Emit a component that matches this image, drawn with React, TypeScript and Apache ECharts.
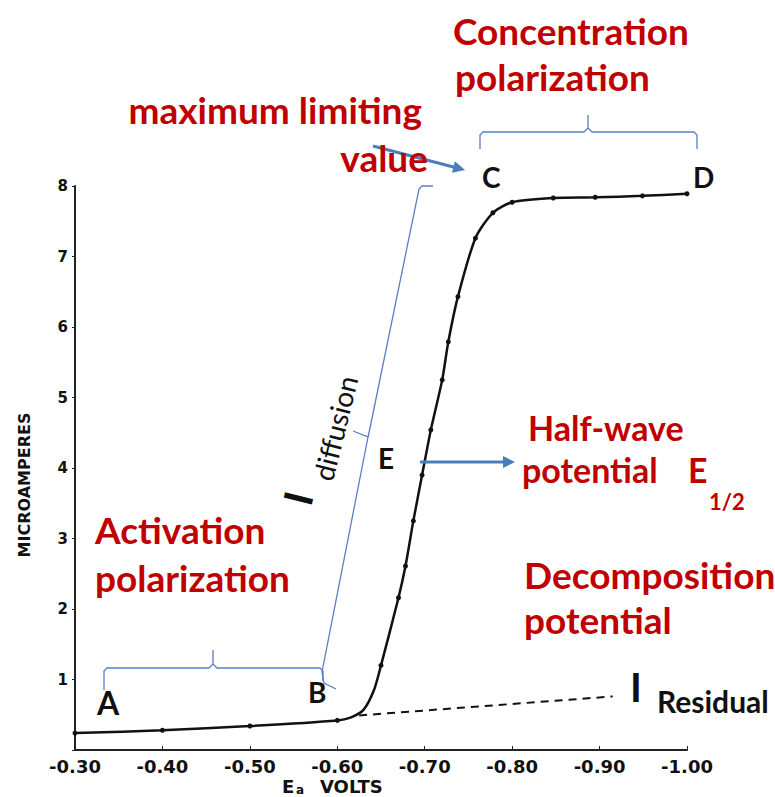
import React, { useEffect, useRef } from 'react';
import * as echarts from 'echarts';

// Polarogram: potential (V) vs current (microamperes)
const potentials = [-0.30, -0.40, -0.50, -0.60, -0.615, -0.63, -0.642, -0.650, -0.670, -0.678, -0.687, -0.697, -0.707, -0.720, -0.727, -0.738, -0.758, -0.778, -0.800, -0.847, -0.895, -0.949, -1.00];
const currents = [0.24, 0.28, 0.34, 0.42, 0.46, 0.57, 0.85, 1.20, 2.16, 2.61, 3.25, 3.90, 4.54, 5.25, 5.79, 6.43, 7.26, 7.62, 7.77, 7.83, 7.84, 7.86, 7.89];
const measured = [true, true, true, true, false, false, false, true, true, true, true, true, true, true, true, true, true, true, true, true, true, true, true];

const residualPotentials = [-0.625, -0.915];
const residualCurrents = [0.49, 0.76];

const xMin = -1.0;
const xMax = -0.3;
const xStep = 0.1;
const yMin = 0;
const yMax = 8;
const yStep = 1;

const RED = '#c00000';
const BLUE = '#4a7ebb';
const BRACE = '#5b7fc4';
const FS = 37;

function txt(text: string, x: number, y: number, opts: any = {}) {
  const align = opts.align || 'left';
  const fs = opts.fontSize || FS;
  return {
    type: 'text',
    x,
    y,
    rotation: opts.rotation || 0,
    z: 100,
    style: {
      text,
      fill: opts.fill || RED,
      fontSize: fs,
      lineHeight: Math.round(fs * 0.9),
      fontWeight: opts.fontWeight || 'bold',
      fontFamily: opts.fontFamily || 'Lato',
      fontStyle: opts.fontStyle || 'normal',
      align,
      textAlign: align,
      verticalAlign: 'middle',
      textVerticalAlign: 'middle',
    },
  };
}

function poly(points: number[][], color = BRACE, width = 1.3) {
  return {
    type: 'polyline',
    z: 90,
    shape: { points },
    style: { stroke: color, lineWidth: width, fill: 'none' },
  };
}

function arrow(x1: number, y1: number, x2: number, y2: number) {
  const dx = x2 - x1;
  const dy = y2 - y1;
  const len = Math.sqrt(dx * dx + dy * dy);
  const ux = dx / len;
  const uy = dy / len;
  const hl = 12;
  const hw = 6;
  const bx = x2 - ux * hl;
  const by = y2 - uy * hl;
  return [
    {
      type: 'line',
      z: 95,
      shape: { x1, y1, x2: bx + ux * 2, y2: by + uy * 2 },
      style: { stroke: BLUE, lineWidth: 3 },
    },
    {
      type: 'polygon',
      z: 95,
      shape: {
        points: [
          [x2, y2],
          [bx - uy * hw, by + ux * hw],
          [bx + uy * hw, by - ux * hw],
        ],
      },
      style: { fill: BLUE },
    },
  ];
}

export default function App() {
  const ref = useRef<HTMLDivElement>(null);
  useEffect(() => {
    const chart = echarts.init(ref.current!, null, { renderer: 'svg' });
    const curveData = potentials.map((p, i) =>
      measured[i]
        ? { value: [p, currents[i]] }
        : { value: [p, currents[i]], symbol: 'none' }
    );
    const residualData = residualPotentials.map((p, i) => [p, residualCurrents[i]]);

    const graphic: any[] = [
      // Concentration polarization
      txt('Concentration', 453, 30),
      txt('polarization', 455, 76),
      // maximum limiting value
      txt('maximum limiting', 422, 109, { align: 'right' }),
      txt('value', 428, 157, { align: 'right' }),
      // Half-wave potential
      txt('Half-wave', 528, 427, { fontSize: 34 }),
      txt('potential', 522, 469, { fontSize: 34 }),
      txt('E', 688, 469, { fontSize: 34 }),
      txt('1/2', 709, 501, { fontSize: 22 }),
      // Decomposition potential
      txt('Decomposition', 524, 574),
      txt('potential', 524, 619),
      // Activation polarization
      txt('Activation', 95, 529),
      txt('polarization', 95, 577),
      // Letters
      txt('C', 482, 177, { fill: '#111', fontSize: 28 }),
      txt('D', 693, 177, { fill: '#111', fontSize: 28 }),
      txt('E', 378, 458, { fill: '#111', fontSize: 28 }),
      txt('A', 97, 702, { fill: '#111', fontSize: 32 }),
      txt('B', 308, 692, { fill: '#111', fontSize: 28 }),
      // I residual
      txt('I', 636, 687, { fill: '#111', fontSize: 40, align: 'center' }),
      txt('Residual', 657, 701, { fill: '#111', fontSize: 30 }),
      // I diffusion (rotated)
      txt('I', 298, 498, { fill: '#111', fontSize: 40, align: 'center', rotation: (76 * Math.PI) / 180 }),
      txt('diffusion', 335, 428, { fill: '#111', fontSize: 28, fontWeight: 'normal', align: 'center', rotation: (76 * Math.PI) / 180 }),
      // Axis names
      txt('MICROAMPERES', 24, 485, { fill: '#111', fontSize: 16, fontFamily: 'DejaVu Sans', align: 'center', rotation: Math.PI / 2 }),
      txt('E', 282, 786, { fill: '#111', fontSize: 18, fontFamily: 'DejaVu Sans' }),
      txt('a', 296, 790, { fill: '#111', fontSize: 12, fontFamily: 'DejaVu Sans' }),
      txt('VOLTS', 320, 786, { fill: '#111', fontSize: 18, fontFamily: 'DejaVu Sans' }),
      // Braces
      poly([[480, 149], [480, 135], [483, 132], [584, 132], [588, 128], [588, 115]]),
      poly([[588, 128], [592, 132], [694, 132], [697, 135], [697, 149]]),
      poly([[104, 690], [104, 671], [107, 668], [209, 668], [213, 664], [213, 650]]),
      poly([[213, 664], [217, 668], [320, 668], [323, 671], [323, 681]]),
      poly([[336, 689], [324, 683], [322, 672], [368, 437], [353, 431]]),
      poly([[368, 437], [370, 428], [419, 189], [422, 186], [433, 186]]),
      ...arrow(373, 146, 465, 170),
      ...arrow(420, 462, 515, 462),
    ];

    chart.setOption({
      animation: false,
      backgroundColor: '#ffffff',
      grid: { left: 75, top: 186, width: 612, height: 564, containLabel: false },
      xAxis: {
        type: 'value',
        min: xMin,
        max: xMax,
        interval: xStep,
        inverse: true,
        axisLine: { show: true, onZero: false, lineStyle: { color: '#222', width: 2 } },
        axisTick: { show: true, inside: true, length: 4, lineStyle: { color: '#222' } },
        splitLine: { show: false },
        axisLabel: {
          color: '#111',
          fontFamily: 'DejaVu Sans',
          fontWeight: 'bold',
          fontSize: 18,
          margin: 7,
          formatter: (v: number) => '-' + Math.abs(v).toFixed(2),
        },
      },
      yAxis: {
        type: 'value',
        min: yMin,
        max: yMax,
        interval: yStep,
        axisLine: { show: true, onZero: false, lineStyle: { color: '#222', width: 2 } },
        axisTick: { show: true, length: 3, lineStyle: { color: '#222' } },
        splitLine: { show: false },
        axisLabel: {
          color: '#111',
          fontFamily: 'DejaVu Sans',
          fontWeight: 'bold',
          fontSize: 15,
          margin: 7,
          formatter: (v: number) => (v === 0 ? '' : String(v)),
        },
      },
      series: [
        {
          type: 'line',
          data: curveData,
          smooth: 0.25,
          symbol: 'circle',
          symbolSize: 5,
          itemStyle: { color: '#111' },
          lineStyle: { color: '#111', width: 2.5 },
          z: 5,
        },
        {
          type: 'line',
          data: residualData,
          symbol: 'none',
          lineStyle: { color: '#111', width: 2, type: [8, 6] },
          z: 4,
        },
      ],
      graphic,
    });
    return () => chart.dispose();
  }, []);
  return <div ref={ref} style={{ position: 'fixed', left: 0, top: 0, width: 775, height: 797 }} />;
}
